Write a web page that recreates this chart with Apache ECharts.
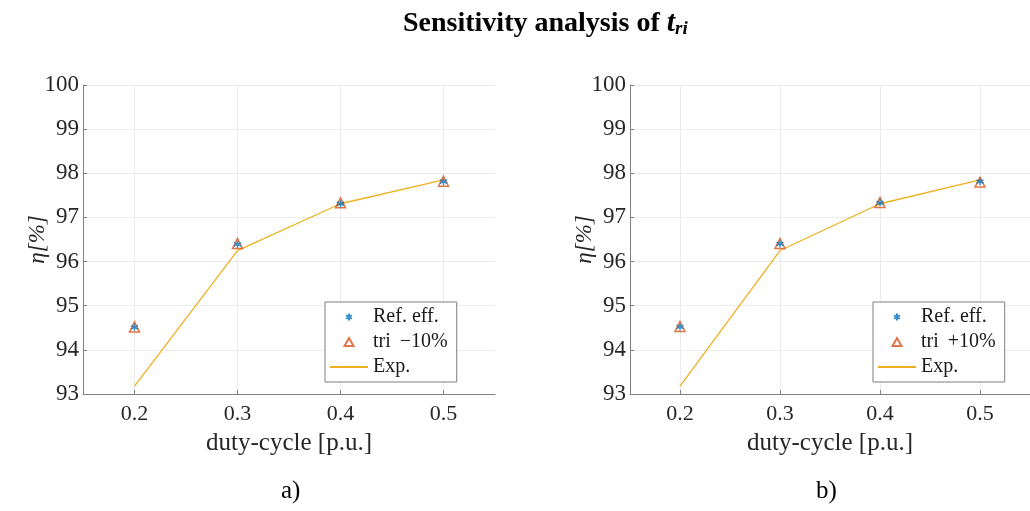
<!DOCTYPE html>
<html>
<head>
    <meta charset="utf-8">
    <title>Sensitivity analysis</title>
    <script src="https://cdn.jsdelivr.net/npm/echarts@6/dist/echarts.min.js"></script>
    <style>
        html, body { margin: 0; padding: 0; background: #fff; }
        #main { width: 1030px; height: 511px; }
    </style>
</head>
<body>
<div id="main"></div>
<script type="text/javascript">
    // duty-cycle values
    var dutyCycle = [0.2, 0.3, 0.4, 0.5];
    var xTicks = [0.2, 0.3, 0.4, 0.5];

    // a) tri -10%
    var refEffA = [94.51, 96.39, 97.31, 97.81];
    var triMinus = [94.52, 96.41, 97.33, 97.82];
    var expA = [93.18, 96.25, 97.31, 97.85];

    // b) tri +10%
    var refEffB = [94.52, 96.40, 97.33, 97.81];
    var triPlus = [94.53, 96.41, 97.34, 97.80];
    var expB = [93.18, 96.25, 97.31, 97.85];

    var serif = '"Liberation Serif", "DejaVu Serif", serif';
    var colors = ['#0072BD', '#D95319', '#EDB120'];
    var asterisk = 'path://M0,-5L0,5M-4.33,-2.5L4.33,2.5M-4.33,2.5L4.33,-2.5';
    // legend icons: invisible moveTo corners keep the 38x12 box so the marker stays small and centered
    var legendAsterisk = 'path://M0,0M38,12M19,2.5L19,9.5M16,4.25L22,7.75M16,7.75L22,4.25';
    var legendTriangle = 'path://M0,0M38,12M19,2L23.5,10L14.5,10Z';
    var nameMinus = 'tri \u2009\u221210%';
    var namePlus = 'tri \u2009+10%';

    function pairs(xs, ys) {
        var out = [];
        for (var i = 0; i < xs.length; i++) out.push([xs[i], ys[i]]);
        return out;
    }

    function xAxisFor(idx) {
        return {
            type: 'value', gridIndex: idx, min: 0.15, max: 0.55, interval: 0.05,
            name: 'duty-cycle [p.u.]', nameLocation: 'middle', nameGap: 37,
            nameTextStyle: {fontFamily: serif, fontSize: 25, color: '#262626'},
            axisLine: {show: true, lineStyle: {color: '#808080', width: 1}},
            axisTick: {show: true, inside: true, length: 4, lineStyle: {color: '#808080'},
                customValues: xTicks},
            axisLabel: {fontFamily: serif, fontSize: 22, color: '#262626', margin: 9,
                customValues: xTicks, formatter: function (v) { return v.toFixed(1); }},
            splitLine: {show: true, lineStyle: {color: '#ebebeb', width: 1}}
        };
    }
    function yAxisFor(idx) {
        return {
            type: 'value', gridIndex: idx, min: 93, max: 100, interval: 1,
            name: '\u03b7[%]', nameLocation: 'middle', nameGap: 34, nameRotate: 90,
            nameMoveOverlap: false,
            nameTextStyle: {fontFamily: serif, fontSize: 23, color: '#262626', fontStyle: 'italic'},
            axisLine: {show: true, lineStyle: {color: '#808080', width: 1}},
            axisTick: {show: true, inside: true, length: 4, lineStyle: {color: '#808080'}},
            axisLabel: {fontFamily: serif, fontSize: 23, color: '#262626', margin: 4},
            splitLine: {show: true, lineStyle: {color: '#ebebeb', width: 1}}
        };
    }
    function legendFor(left, triName) {
        return {
            orient: 'vertical', left: left, top: 302,
            data: [
                {name: 'Ref. eff.', icon: legendAsterisk},
                {name: triName, icon: legendTriangle},
                {name: 'Exp.', itemStyle: {color: 'rgba(0,0,0,0)', borderWidth: 0, opacity: 0}}
            ],
            backgroundColor: '#fff',
            borderColor: '#7f7f7f', borderWidth: 1, borderRadius: 0,
            padding: [5, 9, 5, 4],
            itemWidth: 38, itemHeight: 12, itemGap: 5,
            selectedMode: false,
            textStyle: {fontFamily: serif, fontSize: 20, color: '#1a1a1a'}
        };
    }
    function seriesFor(idx, ref, tri, triName, exp) {
        return [
            {
                name: 'Exp.', type: 'line', xAxisIndex: idx, yAxisIndex: idx,
                data: pairs(dutyCycle, exp), symbol: 'none',
                lineStyle: {color: colors[2], width: 1.3}, itemStyle: {color: colors[2]},
                z: 2
            },
            {
                name: triName, type: 'scatter', xAxisIndex: idx, yAxisIndex: idx,
                data: pairs(dutyCycle, tri), symbol: 'triangle', symbolSize: 10,
                itemStyle: {color: 'rgba(0,0,0,0)', borderColor: colors[1], borderWidth: 1.5},
                z: 3
            },
            {
                name: 'Ref. eff.', type: 'scatter', xAxisIndex: idx, yAxisIndex: idx,
                data: pairs(dutyCycle, ref), symbol: asterisk, symbolSize: 7,
                itemStyle: {color: colors[0], borderColor: colors[0], borderWidth: 1.5},
                z: 4
            }
        ];
    }

    var myChart = echarts.init(document.getElementById('main'));
    myChart.setOption({
        animation: false,
        title: {
            text: '{a|Sensitivity analysis of }{t|t}{s|ri}',
            left: 398, top: 3,
            textStyle: {
                rich: {
                    a: {fontFamily: serif, fontSize: 28, fontWeight: 'bold', color: '#000'},
                    t: {fontFamily: serif, fontSize: 30, fontWeight: 'bold', fontStyle: 'italic', color: '#000'},
                    s: {fontFamily: serif, fontSize: 19, fontWeight: 'bold', fontStyle: 'italic', color: '#000',
                        verticalAlign: 'bottom', padding: [12, 0, 0, 0]}
                }
            }
        },
        graphic: [
            {type: 'text', left: 281, top: 479, style: {text: 'a)', fontFamily: serif, fontSize: 25, fill: '#000'}},
            {type: 'text', left: 816, top: 479, style: {text: 'b)', fontFamily: serif, fontSize: 25, fill: '#000'}}
        ],
        grid: [
            {left: 83, top: 85, width: 412, height: 309},
            {left: 630, top: 85, width: 412, height: 309}
        ],
        legend: [
            legendFor(325, nameMinus),
            legendFor(873, namePlus)
        ],
        xAxis: [xAxisFor(0), xAxisFor(1)],
        yAxis: [yAxisFor(0), yAxisFor(1)],
        series: seriesFor(0, refEffA, triMinus, nameMinus, expA)
            .concat(seriesFor(1, refEffB, triPlus, namePlus, expB))
    });
</script>
</body>
</html>
